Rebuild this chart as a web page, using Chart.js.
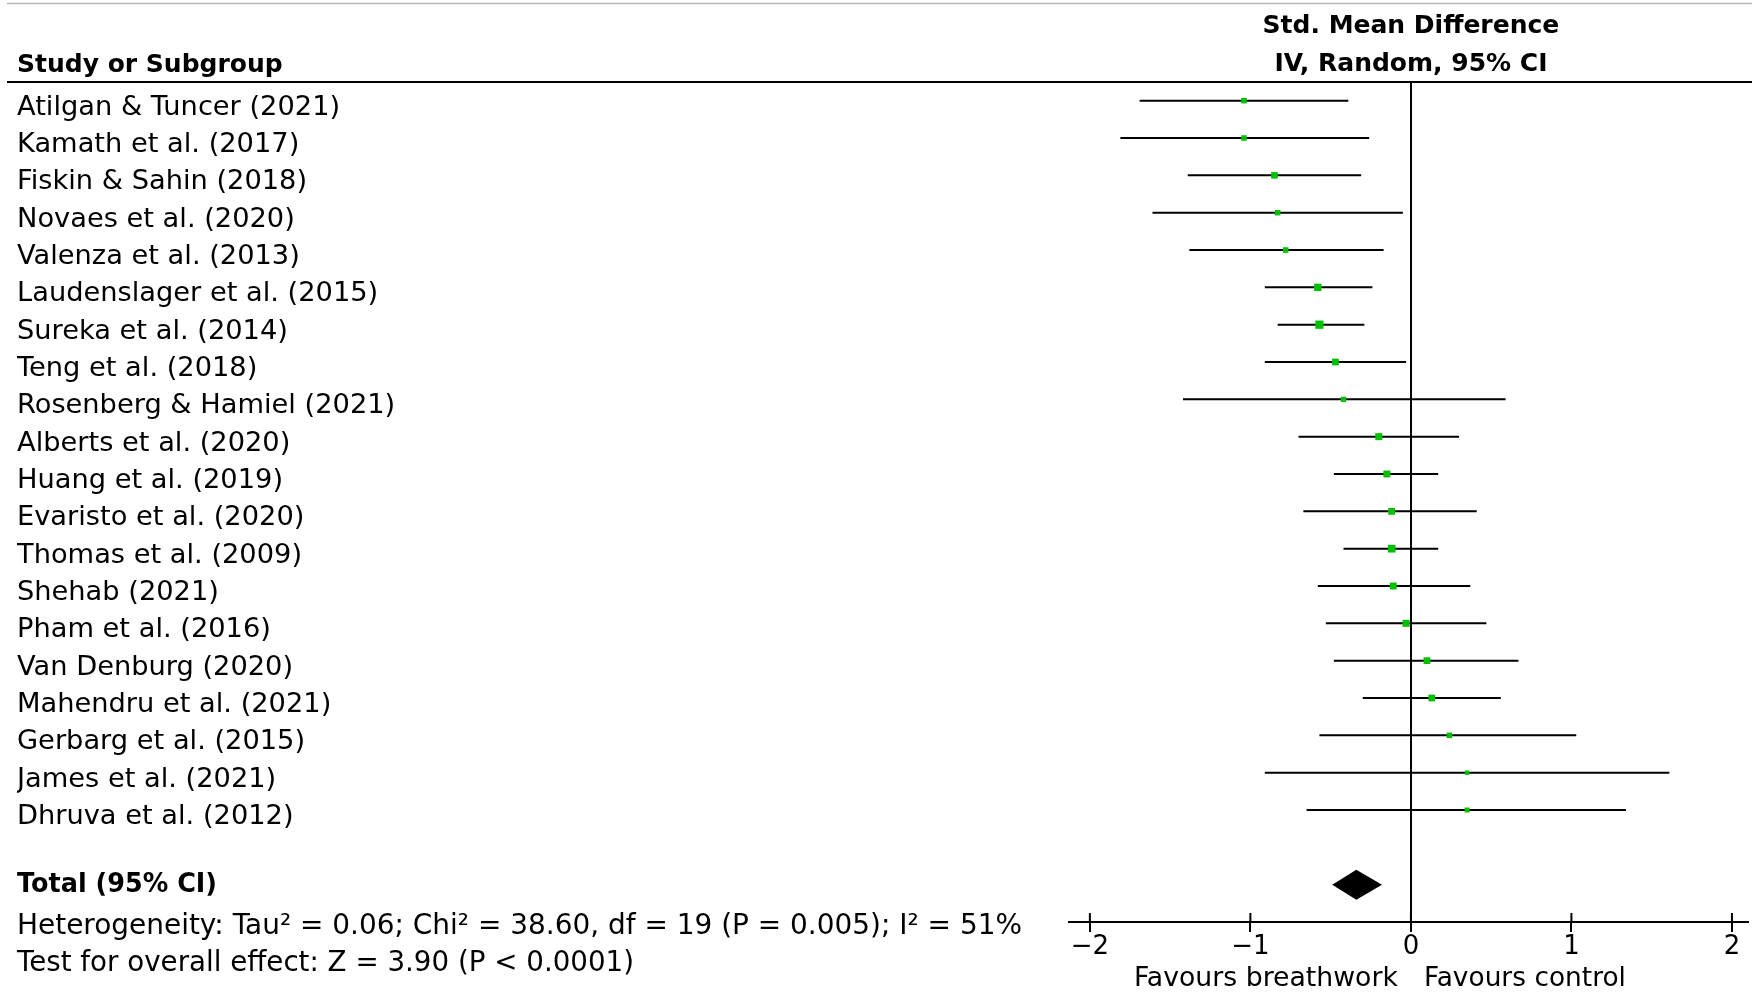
<!DOCTYPE html>
<html>
<head>
<meta charset="utf-8">
<title>Forest plot - breathwork vs control</title>
<script src="https://cdn.jsdelivr.net/npm/chart.js@4.4.1/dist/chart.umd.min.js"></script>
<style>
  html, body { margin: 0; padding: 0; background: #fff; }
  #forestChart { display: block; }
</style>
</head>
<body>
<canvas id="forestChart" width="1752" height="992"></canvas>
<script>
// --- Data (Std. Mean Difference, IV, Random, 95% CI) ---
const studies = [
    'Atilgan & Tuncer (2021)', 'Kamath et al. (2017)', 'Fiskin & Sahin (2018)',
    'Novaes et al. (2020)', 'Valenza et al. (2013)', 'Laudenslager et al. (2015)',
    'Sureka et al. (2014)', 'Teng et al. (2018)', 'Rosenberg & Hamiel (2021)',
    'Alberts et al. (2020)', 'Huang et al. (2019)', 'Evaristo et al. (2020)',
    'Thomas et al. (2009)', 'Shehab (2021)', 'Pham et al. (2016)',
    'Van Denburg (2020)', 'Mahendru et al. (2021)', 'Gerbarg et al. (2015)',
    'James et al. (2021)', 'Dhruva et al. (2012)'
];
const smd    = [-1.04, -1.04, -0.85, -0.83, -0.78, -0.58, -0.57, -0.47, -0.42, -0.20,
                -0.15, -0.12, -0.12, -0.11, -0.03,  0.10,  0.13,  0.24,  0.35,  0.35];
const ciLow  = [-1.69, -1.81, -1.39, -1.61, -1.38, -0.91, -0.83, -0.91, -1.42, -0.70,
                -0.48, -0.67, -0.42, -0.58, -0.53, -0.48, -0.30, -0.57, -0.91, -0.65];
const ciHigh = [-0.39, -0.26, -0.31, -0.05, -0.17, -0.24, -0.29, -0.03,  0.59,  0.30,
                 0.17,  0.41,  0.17,  0.37,  0.47,  0.67,  0.56,  1.03,  1.61,  1.34];
// approximate study weights (%), judged from the size of the squares
const weights = [3.7, 3.7, 5.2, 3.7, 3.7, 6.5, 8.2, 5.5, 3.4, 6.0,
                 5.8, 5.6, 7.2, 5.8, 6.0, 5.5, 5.5, 3.7, 2.4, 3.0];

const totalSmd = -0.34;
const totalLow = -0.49;
const totalHigh = -0.18;

const xTicks = [-2, -1, 0, 1, 2];

const heterogeneityText = 'Heterogeneity: Tau\u00B2 = 0.06; Chi\u00B2 = 38.60, df = 19 (P = 0.005); I\u00B2 = 51%';
const overallText = 'Test for overall effect: Z = 3.90 (P < 0.0001)';
const leftFavours = 'Favours breathwork';
const rightFavours = 'Favours control';

// Total sits one blank row below the last study
const totalRow = studies.length + 1;

const FONT = "'DejaVu Sans', sans-serif";

/**
 * Draw text, fitted to the width it has in the original
 */
function drawText(ctx, text, x, y, font, align, maxWidth) {
    ctx.font = font;
    ctx.textAlign = align;
    ctx.textBaseline = 'middle';
    ctx.fillStyle = '#000';
    if (maxWidth) {
        ctx.fillText(text, x, y, maxWidth);
    } else {
        ctx.fillText(text, x, y);
    }
}

/**
 * Extra pieces RevMan draws around the plot: rules, headers,
 * the pooled diamond, footnotes and the "favours" labels.
 */
const forestDecor = {
    id: 'forestDecor',
    afterDraw(chart) {
        const ctx = chart.ctx;
        const xs = chart.scales.x;
        const ys = chart.scales.y;
        const area = chart.chartArea;
        const zeroX = xs.getPixelForValue(0);

        ctx.save();

        // thin grey rule at the very top
        ctx.strokeStyle = '#b8b8b8';
        ctx.lineWidth = 1.5;
        ctx.beginPath();
        ctx.moveTo(7, 3.5);
        ctx.lineTo(chart.width, 3.5);
        ctx.stroke();

        // header rule
        ctx.strokeStyle = '#000';
        ctx.lineWidth = 2;
        ctx.beginPath();
        ctx.moveTo(7, area.top);
        ctx.lineTo(chart.width, area.top);
        ctx.stroke();

        // column headers
        drawText(ctx, 'Study or Subgroup', 17, 65, 'bold 25px ' + FONT, 'left', 269);
        drawText(ctx, 'Std. Mean Difference', zeroX, 26, 'bold 25px ' + FONT, 'center', 297);
        drawText(ctx, 'IV, Random, 95% CI', zeroX, 64, 'bold 25px ' + FONT, 'center', 275);

        // tick marks also poke up above the axis line
        ctx.lineWidth = 2;
        xs.ticks.forEach(function(t) {
            const px = xs.getPixelForValue(t.value);
            ctx.beginPath();
            ctx.moveTo(px, area.bottom - 9);
            ctx.lineTo(px, area.bottom);
            ctx.stroke();
        });

        // pooled estimate diamond
        const ty = ys.getPixelForValue(totalRow);
        ctx.fillStyle = '#000';
        ctx.beginPath();
        ctx.moveTo(xs.getPixelForValue(totalLow), ty);
        ctx.lineTo(xs.getPixelForValue(totalSmd), ty - 15);
        ctx.lineTo(xs.getPixelForValue(totalHigh), ty);
        ctx.lineTo(xs.getPixelForValue(totalSmd), ty + 15);
        ctx.closePath();
        ctx.fill();

        // total label and footnotes
        drawText(ctx, 'Total (95% CI)', 17, ty + 1, 'bold 26px ' + FONT, 'left', 200);
        drawText(ctx, heterogeneityText, 17, 927, '28px ' + FONT, 'left', 1005);
        drawText(ctx, overallText, 17, 964, '28px ' + FONT, 'left', 617);

        // favours labels either side of zero
        drawText(ctx, leftFavours, zeroX - 13, 979, '27px ' + FONT, 'right', 264);
        drawText(ctx, rightFavours, zeroX + 13, 979, '27px ' + FONT, 'left', 202);

        ctx.restore();
    }
};

function initForestChart() {
    if (typeof Chart === 'undefined') {
        console.warn('Chart.js library is not loaded.');
        return;
    }

    // one line dataset for all the CIs, broken by empty points
    const ciPoints = [];
    studies.forEach(function(s, i) {
        ciPoints.push({ x: ciLow[i], y: i });
        ciPoints.push({ x: ciHigh[i], y: i });
        ciPoints.push({ x: null, y: null });
    });

    const estPoints = studies.map(function(s, i) {
        return { x: smd[i], y: i };
    });

    const ctx = document.getElementById('forestChart').getContext('2d');
    new Chart(ctx, {
        type: 'line',
        data: {
            datasets: [{
                label: 'Std. mean difference',
                data: estPoints,
                showLine: false,
                pointStyle: 'rect',
                pointRadius: weights.map(function(w) { return 2.03 * Math.sqrt(w); }),
                pointBackgroundColor: '#00c000',
                pointBorderWidth: 0,
                order: 0
            }, {
                label: '95% CI',
                data: ciPoints,
                borderColor: '#000',
                borderWidth: 2,
                pointRadius: 0,
                spanGaps: false,
                tension: 0,
                order: 1
            }]
        },
        options: {
            responsive: false,
            animation: false,
            events: [],
            layout: { padding: { top: 82, left: 17, right: 0, bottom: 0 } },
            plugins: {
                legend: { display: false },
                tooltip: { enabled: false }
            },
            scales: {
                x: {
                    type: 'linear',
                    min: -2.13,
                    max: 2.10,
                    afterBuildTicks: function(scale) {
                        scale.ticks = xTicks.map(function(v) { return { value: v }; });
                    },
                    afterFit: function(scale) { scale.height = 70; },
                    border: { display: true, color: '#000', width: 2 },
                    grid: {
                        // only the line of no effect is shown
                        color: function(c) {
                            return c.tick && c.tick.value === 0 ? '#000' : 'rgba(0,0,0,0)';
                        },
                        lineWidth: 2,
                        drawTicks: true,
                        tickLength: 10,
                        tickColor: '#000',
                        tickWidth: 2
                    },
                    ticks: {
                        color: '#000',
                        padding: 0,
                        font: { family: FONT, size: 26 },
                        callback: function(v) { return String(v).replace('-', '\u2212'); }
                    }
                },
                y: {
                    type: 'linear',
                    reverse: true,
                    min: -0.5,
                    max: 22,
                    afterBuildTicks: function(scale) {
                        scale.ticks = studies.map(function(s, i) { return { value: i }; });
                    },
                    afterFit: function(scale) { scale.width = 1069 - 17; },
                    border: { display: false },
                    grid: { display: false },
                    ticks: {
                        autoSkip: false,
                        crossAlign: 'far',
                        labelOffset: 7,
                        color: '#000',
                        font: { family: FONT, size: 27.25 },
                        callback: function(v) { return studies[v] || ''; }
                    }
                }
            }
        },
        plugins: [forestDecor]
    });
}

initForestChart();
</script>
</body>
</html>
